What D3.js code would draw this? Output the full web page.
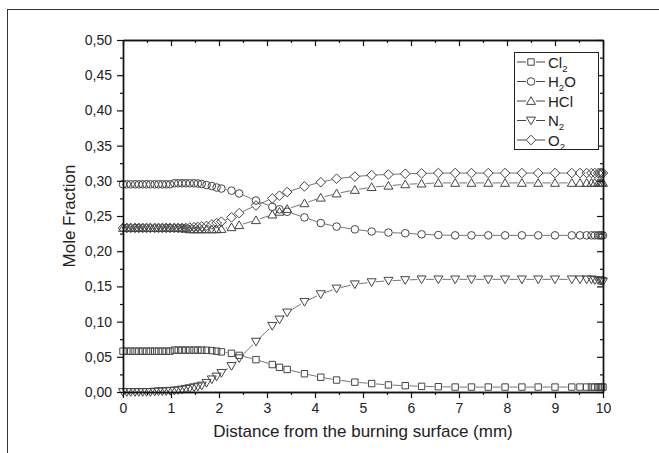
<!DOCTYPE html>
<html>
<head>
<meta charset="utf-8">
<script src="https://cdn.jsdelivr.net/npm/d3@7"></script>
<style>
  body { margin: 0; background: #fff; }
  text { font-family: "Liberation Sans", Arial, sans-serif; fill: #222; }
</style>
</head>
<body>
<div id="chart"></div>
<script>
// distance grid (mm), shared by all species
const distance = [0, 0.08, 0.16, 0.25, 0.33, 0.41, 0.49, 0.57, 0.66, 0.74, 0.82, 0.90, 0.98, 1.07, 1.15, 1.23, 1.31, 1.39, 1.48, 1.56,
  1.64, 1.74, 1.85, 1.95, 2.05, 2.26, 2.42, 2.77, 3.11, 3.26, 3.42, 3.78, 4.12, 4.45, 4.83, 5.18, 5.53, 5.88, 6.22, 6.57,
  6.92, 7.26, 7.61, 7.96, 8.31, 8.65, 9.00, 9.35, 9.52, 9.66, 9.76, 9.83, 9.90, 9.94, 9.97, 10.0];

const cl2 = [0.058, 0.058, 0.058, 0.058, 0.058, 0.058, 0.058, 0.058, 0.058, 0.058, 0.058, 0.058, 0.058, 0.0595, 0.0595, 0.0595, 0.0595, 0.0595, 0.0595, 0.0595,
  0.0595, 0.0593, 0.0588, 0.058, 0.057, 0.055, 0.052, 0.046, 0.039, 0.035, 0.032, 0.026, 0.021, 0.017, 0.014, 0.012, 0.010, 0.009, 0.008, 0.0075,
  0.007, 0.007, 0.007, 0.007, 0.007, 0.007, 0.007, 0.007, 0.007, 0.007, 0.007, 0.007, 0.007, 0.007, 0.007, 0.007];

const h2o = [0.295, 0.295, 0.295, 0.295, 0.295, 0.295, 0.295, 0.295, 0.295, 0.295, 0.295, 0.295, 0.295, 0.2965, 0.2965, 0.2965, 0.2965, 0.2965, 0.2965, 0.2962,
  0.2955, 0.294, 0.2925, 0.2905, 0.289, 0.286, 0.282, 0.272, 0.263, 0.2595, 0.256, 0.248, 0.240, 0.235, 0.231, 0.228, 0.2265, 0.2255, 0.224, 0.223,
  0.2225, 0.2225, 0.2225, 0.2225, 0.2225, 0.2225, 0.2225, 0.2225, 0.2225, 0.2225, 0.2225, 0.2225, 0.2225, 0.2225, 0.2225, 0.2225];

const hcl = [0.233, 0.233, 0.233, 0.233, 0.233, 0.233, 0.233, 0.233, 0.233, 0.233, 0.233, 0.233, 0.233, 0.233, 0.233, 0.2325, 0.232, 0.231, 0.231, 0.231,
  0.231, 0.231, 0.231, 0.231, 0.2315, 0.234, 0.237, 0.244, 0.252, 0.256, 0.260, 0.268, 0.276, 0.282, 0.287, 0.291, 0.293, 0.295, 0.296, 0.297,
  0.297, 0.297, 0.297, 0.297, 0.297, 0.297, 0.297, 0.297, 0.297, 0.297, 0.297, 0.297, 0.297, 0.297, 0.297, 0.297];

const n2 = [0, 0, 0, 0, 0, 0, 0, 0, 0.0005, 0.001, 0.001, 0.0013, 0.0017, 0.002, 0.0027, 0.0035, 0.0045, 0.0055, 0.0068, 0.0078,
  0.0092, 0.013, 0.018, 0.022, 0.027, 0.037, 0.048, 0.0715, 0.094, 0.103, 0.113, 0.128, 0.139, 0.147, 0.153, 0.156, 0.158, 0.159, 0.160, 0.160,
  0.160, 0.160, 0.160, 0.160, 0.160, 0.160, 0.160, 0.160, 0.160, 0.160, 0.160, 0.159, 0.159, 0.158, 0.158, 0.157];

const o2 = [0.233, 0.233, 0.233, 0.233, 0.233, 0.233, 0.233, 0.233, 0.233, 0.233, 0.233, 0.233, 0.233, 0.233, 0.233, 0.233, 0.233, 0.2335, 0.234, 0.2345,
  0.235, 0.236, 0.238, 0.240, 0.242, 0.248, 0.254, 0.265, 0.275, 0.279, 0.284, 0.292, 0.298, 0.303, 0.306, 0.308, 0.309, 0.310, 0.3105, 0.311,
  0.311, 0.311, 0.311, 0.311, 0.311, 0.311, 0.311, 0.311, 0.311, 0.311, 0.311, 0.311, 0.311, 0.311, 0.311, 0.311];

const xTicks = [0, 1, 2, 3, 4, 5, 6, 7, 8, 9, 10];
const yTicks = [0, 0.05, 0.10, 0.15, 0.20, 0.25, 0.30, 0.35, 0.40, 0.45, 0.50];

const series = [
  { label: 'Cl', sub: '2', tail: '', values: cl2, shape: 'square' },
  { label: 'H', sub: '2', tail: 'O', values: h2o, shape: 'circle' },
  { label: 'HCl', sub: '', tail: '', values: hcl, shape: 'triUp' },
  { label: 'N', sub: '2', tail: '', values: n2, shape: 'triDown' },
  { label: 'O', sub: '2', tail: '', values: o2, shape: 'diamond' }
];

const width = 659, height = 453;
const margin = { left: 123, right: 56, top: 40, bottom: 61 };

const svg = d3.select('#chart').append('svg')
  .attr('width', width)
  .attr('height', height);

svg.append('rect').attr('width', width).attr('height', height).attr('fill', '#fff');
// frame of the picture
svg.append('rect')
  .attr('x', 7.5).attr('y', 9.5)
  .attr('width', 700).attr('height', 500)
  .attr('fill', 'none').attr('stroke', '#333').attr('stroke-width', 1);

const x = d3.scaleLinear().domain([0, 10]).range([margin.left, width - margin.right]);
const y = d3.scaleLinear().domain([0, 0.5]).range([height - margin.bottom, margin.top]);

// marker paths, centred on 0,0
function markerPath(shape) {
  switch (shape) {
    case 'square': return 'M-3.2,-3.2H3.2V3.2H-3.2Z';
    case 'circle': return 'M3.8,0A3.8,3.8 0 1,1 -3.8,0A3.8,3.8 0 1,1 3.8,0Z';
    case 'triUp': return 'M0,-4.3L4.5,3.4H-4.5Z';
    case 'triDown': return 'M0,4.3L4.5,-3.4H-4.5Z';
    case 'diamond': return 'M0,-4.8L4.8,0L0,4.8L-4.8,0Z';
  }
}
const gap = 4.2;

// connecting lines, broken at every marker
function drawSegments(g, pts) {
  for (let i = 0; i < pts.length - 1; i++) {
    let [x1, y1] = pts[i], [x2, y2] = pts[i + 1];
    let dx = x2 - x1, dy = y2 - y1;
    let d = Math.sqrt(dx * dx + dy * dy);
    if (d <= 2 * gap + 1) continue;
    let ux = dx / d, uy = dy / d;
    g.append('line')
      .attr('x1', x1 + ux * gap).attr('y1', y1 + uy * gap)
      .attr('x2', x2 - ux * gap).attr('y2', y2 - uy * gap)
      .attr('stroke', '#666').attr('stroke-width', 0.9);
  }
}

const plot = svg.append('g');
series.forEach(s => {
  let pts = distance.map((d, i) => [x(d), y(s.values[i])]);
  let g = plot.append('g');
  drawSegments(g, pts);
  g.selectAll('path').data(pts).enter().append('path')
    .attr('d', markerPath(s.shape))
    .attr('transform', p => 'translate(' + p[0] + ',' + p[1] + ')')
    .attr('fill', 'none')
    .attr('stroke', '#444')
    .attr('stroke-width', 1);
});

// axes
const fmt = v => d3.format('.2f')(v).replace('.', ',');
const xMinor = [0.5, 1.5, 2.5, 3.5, 4.5, 5.5, 6.5, 7.5, 8.5, 9.5];
const yMinor = [0.025, 0.075, 0.125, 0.175, 0.225, 0.275, 0.325, 0.375, 0.425, 0.475];

function styleAxis(g) {
  g.select('.domain').attr('stroke', '#111').attr('stroke-width', 1.4);
  g.selectAll('.tick line').attr('stroke', '#111').attr('stroke-width', 1.2);
  g.selectAll('.tick text').style('font-family', '"Liberation Sans", Arial, sans-serif')
    .style('font-size', '14px').attr('fill', '#222');
}

function addAxis(axis, tx, ty) {
  return svg.append('g').attr('transform', 'translate(' + tx + ',' + ty + ')').call(axis).call(styleAxis);
}

addAxis(d3.axisBottom(x).tickValues(xTicks).tickSize(6).tickPadding(5).tickSizeOuter(0), 0, y(0));
addAxis(d3.axisBottom(x).tickValues(xMinor).tickSize(3).tickFormat('').tickSizeOuter(0), 0, y(0));

addAxis(d3.axisTop(x).tickValues(xTicks).tickSize(-6).tickFormat('').tickSizeOuter(0), 0, y(0.5));
addAxis(d3.axisTop(x).tickValues(xMinor).tickSize(-3).tickFormat('').tickSizeOuter(0), 0, y(0.5));

addAxis(d3.axisLeft(y).tickValues(yTicks).tickSize(6).tickPadding(5).tickFormat(fmt).tickSizeOuter(0), x(0), 0);
addAxis(d3.axisLeft(y).tickValues(yMinor).tickSize(3).tickFormat('').tickSizeOuter(0), x(0), 0);

addAxis(d3.axisRight(y).tickValues(yTicks).tickSize(-6).tickFormat('').tickSizeOuter(0), x(10), 0);
addAxis(d3.axisRight(y).tickValues(yMinor).tickSize(-3).tickFormat('').tickSizeOuter(0), x(10), 0);

// axis titles
svg.append('text')
  .attr('x', (x(0) + x(10)) / 2).attr('y', 437)
  .attr('text-anchor', 'middle')
  .style('font-size', '17px')
  .text('Distance from the burning surface (mm)');

svg.append('text')
  .attr('transform', 'translate(75,' + (y(0) + y(0.5)) / 2 + ') rotate(-90)')
  .attr('text-anchor', 'middle')
  .style('font-size', '17px')
  .text('Mole Fraction');

// legend
const legend = svg.append('g');
legend.append('rect')
  .attr('x', 514.5).attr('y', 52.5).attr('width', 84).attr('height', 97)
  .attr('fill', '#fff').attr('stroke', '#222').attr('stroke-width', 1);

series.forEach((s, i) => {
  let ly = 62 + i * 19.5;
  let g = legend.append('g');
  g.append('line').attr('x1', 517).attr('x2', 526).attr('y1', ly).attr('y2', ly)
    .attr('stroke', '#444').attr('stroke-width', 1);
  g.append('line').attr('x1', 536).attr('x2', 545).attr('y1', ly).attr('y2', ly)
    .attr('stroke', '#444').attr('stroke-width', 1);
  g.append('path').attr('d', markerPath(s.shape))
    .attr('transform', 'translate(531,' + ly + ')')
    .attr('fill', 'none').attr('stroke', '#444').attr('stroke-width', 1);
  let t = g.append('text').attr('x', 548).attr('y', ly + 5.5).style('font-size', '15px');
  t.append('tspan').text(s.label);
  if (s.sub) {
    t.append('tspan').attr('dy', 4).style('font-size', '9.5px').text(s.sub);
  }
  if (s.tail) {
    t.append('tspan').attr('dy', -4).text(s.tail);
  }
});
</script>
</body>
</html>
